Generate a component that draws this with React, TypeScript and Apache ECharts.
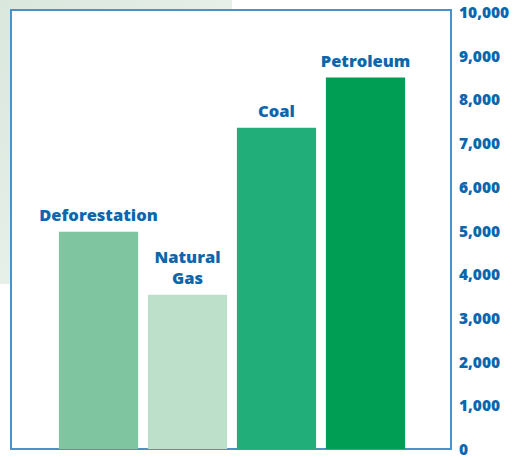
import React, { useEffect, useRef } from "react";
import * as echarts from "echarts";

const categories = ["Deforestation", "Natural Gas", "Coal", "Petroleum"];
const barLabels = ["Deforestation", "Natural\nGas", "Coal", "Petroleum"];
const values = [4970, 3530, 7350, 8500];
const barColors = ["#7fc6a0", "#bde0cb", "#22ae78", "#009d55"];

export default function App() {
  const ref = useRef<HTMLDivElement>(null);
  useEffect(() => {
    if (!ref.current) return;
    const chart = echarts.init(ref.current, null, { renderer: "svg" });
    const blue = "#0b67ad";
    chart.setOption({
      animation: false,
      backgroundColor: "#ffffff",
      graphic: [
        {
          type: "rect",
          z: -10,
          shape: { x: 0, y: 0, width: 232, height: 284 },
          style: {
            fill: new echarts.graphic.LinearGradient(0, 0, 1, 1, [
              { offset: 0, color: "#d9e7dd" },
              { offset: 0.5, color: "#e6efe8" },
              { offset: 1, color: "#eaf1ec" },
            ]),
          },
        },
        {
          type: "rect",
          z: -5,
          shape: { x: 11, y: 10, width: 440, height: 439 },
          style: { fill: "#ffffff", stroke: "#4a92c9", lineWidth: 2 },
        },
      ],
      grid: { left: 54, right: 110, top: 12, bottom: 8 },
      xAxis: {
        type: "category",
        data: categories,
        show: false,
      },
      yAxis: {
        type: "value",
        position: "right",
        offset: 41,
        min: 0,
        max: 10000,
        interval: 1000,
        axisLine: { show: false },
        axisTick: { show: false },
        splitLine: { show: false },
        axisLabel: {
          margin: 8,
          color: blue,
          fontFamily: "Open Sans",
          fontWeight: 800,
          fontSize: 15.5,
          verticalAlign: "middle",
          formatter: (v: number) => v.toLocaleString("en-US"),
        },
      },
      series: [
        {
          type: "bar",
          barCategoryGap: "11%",
          data: values.map((v, i) => ({
            value: v,
            itemStyle: { color: barColors[i] },
          })),
          label: {
            show: true,
            position: "top",
            distance: 7,
            color: blue,
            fontFamily: "Open Sans",
            fontWeight: 800,
            fontSize: 16.5,
            lineHeight: 21,
            formatter: (p: any) => barLabels[p.dataIndex],
          },
        },
      ],
    });
    return () => chart.dispose();
  }, []);
  return (
    <div
      ref={ref}
      style={{ position: "absolute", left: 0, top: 0, width: 520, height: 457 }}
    />
  );
}
